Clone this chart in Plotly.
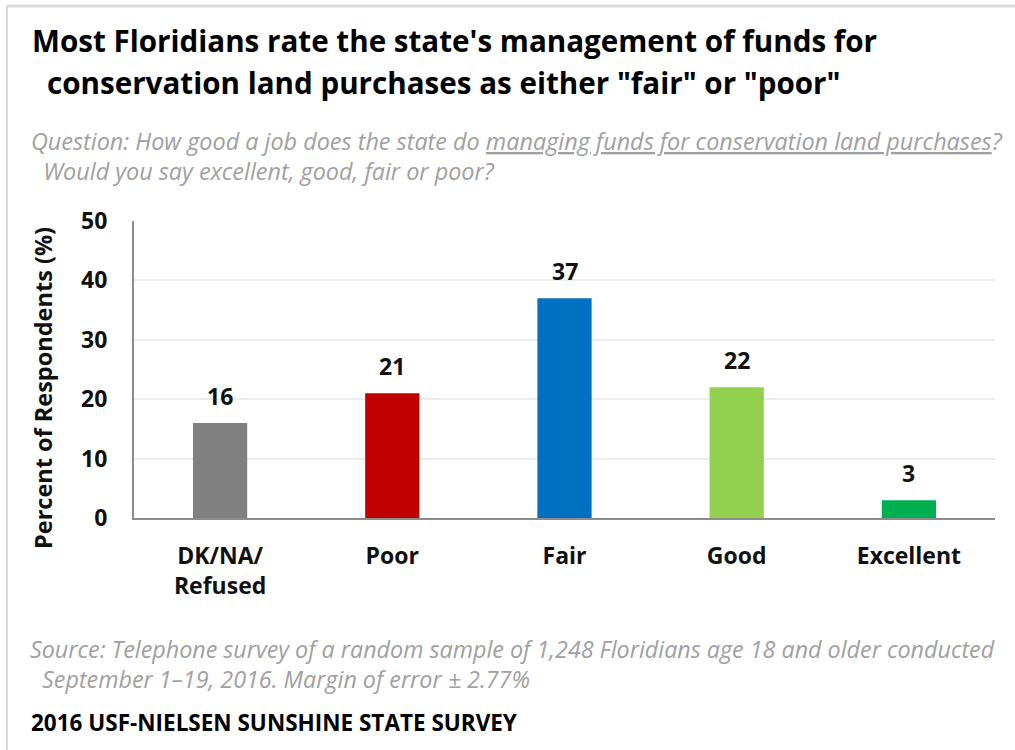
import plotly.graph_objects as go

categories = ["DK/NA/<br>Refused", "Poor", "Fair", "Good", "Excellent"]
values = [16, 21, 37, 22, 3]
colors = ["#808080", "#C00000", "#0070C0", "#92D050", "#00B050"]
y_ticks = [0, 10, 20, 30, 40, 50]

FONT = "Open Sans"
NOTE_GRAY = "#A0A0A0"

fig = go.Figure(
    go.Bar(
        x=categories,
        y=values,
        marker=dict(color=colors, line=dict(width=0)),
        width=0.315,
        hoverinfo="x+y",
    )
)

# Value labels above each bar
for cat, val in zip(categories, values):
    fig.add_annotation(
        x=cat, y=val, yanchor="middle", yshift=27,
        text=f"<b>{val}</b>", showarrow=False,
        font=dict(family=FONT, size=23, color="#111111"),
    )

fig.update_layout(
    width=1015,
    height=750,
    margin=dict(l=134, r=20, t=221, b=232),
    paper_bgcolor="white",
    plot_bgcolor="white",
    showlegend=False,
    font=dict(family=FONT, color="#111111"),
)

fig.update_yaxes(
    range=[0, 50],
    tickvals=y_ticks,
    ticktext=[f"<b>{t}</b>" for t in y_ticks],
    tickfont=dict(family=FONT, size=23, color="#111111"),
    showgrid=True,
    gridcolor="#EDEDED",
    gridwidth=1.5,
    showline=True,
    linecolor="#8C8C8C",
    linewidth=2,
    ticks="",
    ticklabelstandoff=20,
    zeroline=False,
)

fig.update_xaxes(
    showline=True,
    linecolor="#8C8C8C",
    linewidth=2,
    ticks="",
    tickfont=dict(family=FONT, size=23, color="#111111", weight="bold"),
    ticklabelstandoff=16,
)


def note(text, px, py, size, color, anchor="left", angle=0):
    """Place a text block by its pixel position on the 1015x750 canvas."""
    fig.add_annotation(
        xref="paper", yref="paper",
        x=(px - 134) / 861, y=(518 - py) / 297,
        xanchor=anchor, yanchor="middle", align="left",
        text=text, showarrow=False, textangle=angle,
        font=dict(family=FONT, size=size, color=color),
    )


# Title
note("<b>Most Floridians rate the state's management of funds for</b>", 30, 40, 29.6, "#000000")
note("<b>conservation land purchases as either \"fair\" or \"poor\"</b>", 45, 82, 29.6, "#000000")

# Survey question
note("<i>Question: How good a job does the state do <u>managing funds for conservation land purchases</u>?"
     "<br>&nbsp;&nbsp;Would you say excellent, good, fair or poor?</i>",
     29, 156, 23.4, NOTE_GRAY)

# Y-axis title
note("<b>Percent of Respondents (%)</b>", 43, 388, 23.5, "#111111", anchor="center", angle=-90)

# Source and footer
note("<i>Source: Telephone survey of a random sample of 1,248 Floridians age 18 and older conducted"
     "<br>&nbsp;&nbsp;September 1–19, 2016. Margin of error ± 2.77%</i>",
     28, 664, 23.3, NOTE_GRAY)
note("<b>2016 USF-NIELSEN SUNSHINE STATE SURVEY</b>", 29, 722, 22.5, "#000000")

# Thin frame along the top and left edges
fig.add_shape(type="line", xref="paper", yref="paper", x0=(7 - 134) / 861, x1=1.03,
              y0=(518 - 6) / 297, y1=(518 - 6) / 297, line=dict(color="#D9D9D9", width=3))
fig.add_shape(type="line", xref="paper", yref="paper", x0=(7 - 134) / 861, x1=(7 - 134) / 861,
              y0=(518 - 6) / 297, y1=-0.8, line=dict(color="#D9D9D9", width=2))

fig.write_html("out.html")
